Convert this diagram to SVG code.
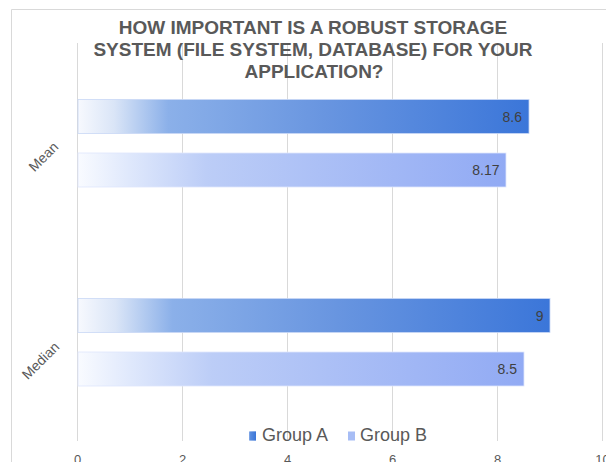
<svg xmlns="http://www.w3.org/2000/svg" width="606" height="462" viewBox="0 0 606 462">
<defs>
<linearGradient id="gA" x1="0" y1="0" x2="1" y2="0">
<stop offset="0" stop-color="#f7f9fe"/>
<stop offset="0.08" stop-color="#dae5f7"/>
<stop offset="0.2" stop-color="#8bb0e9"/>
<stop offset="0.55" stop-color="#6895e0"/>
<stop offset="1" stop-color="#3b76d9"/>
</linearGradient>
<linearGradient id="gB" x1="0" y1="0" x2="1" y2="0">
<stop offset="0" stop-color="#f9fbff"/>
<stop offset="0.12" stop-color="#dfe8fc"/>
<stop offset="0.3" stop-color="#bccdf7"/>
<stop offset="1" stop-color="#91aaf4"/>
</linearGradient>
<style>
.grid{stroke:#d9d9d9;stroke-width:1}
.frame{stroke:#d9d9d9;stroke-width:1;fill:none}
.title{font-family:"Liberation Sans",Arial,sans-serif;font-weight:bold;font-size:19px;fill:#595959;text-anchor:middle}
.val{font-family:"Liberation Sans",Arial,sans-serif;font-size:14px;fill:#404040;text-anchor:end}
.cat{font-family:"Liberation Sans",Arial,sans-serif;font-size:14px;fill:#595959;text-anchor:middle}
.axis{font-family:"Liberation Sans",Arial,sans-serif;font-size:13px;fill:#595959;text-anchor:middle}
.leg{font-family:"Liberation Sans",Arial,sans-serif;font-size:18px;fill:#595959}
.barA{fill:url(#gA);stroke:#c9d8f5;stroke-width:0.8}
.barB{fill:url(#gB);stroke:#dfe7fc;stroke-width:0.8}
</style>
</defs>
<rect x="0" y="0" width="606" height="462" fill="#ffffff"/>
<path class="frame" d="M11.5,462 V9.5 H606"/>
<g id="gridlines">
<line class="grid" x1="77.5" y1="43" x2="77.5" y2="441"/>
<line class="grid" x1="182.5" y1="43" x2="182.5" y2="441"/>
<line class="grid" x1="287.5" y1="43" x2="287.5" y2="441"/>
<line class="grid" x1="392.5" y1="43" x2="392.5" y2="441"/>
<line class="grid" x1="497.5" y1="43" x2="497.5" y2="441"/>
<line class="grid" x1="602.5" y1="43" x2="602.5" y2="441"/>
</g>
<g id="title">
<text class="title" x="313" y="34">HOW IMPORTANT IS A ROBUST STORAGE</text>
<text class="title" x="313" y="56">SYSTEM (FILE SYSTEM, DATABASE) FOR YOUR</text>
<text class="title" x="314" y="78">APPLICATION?</text>
</g>
<g id="mean-a">
<rect class="barA" x="78" y="99.5" width="451" height="34"/>
<text class="val" x="522" y="121.5">8.6</text>
</g>
<g id="mean-b">
<rect class="barB" x="78" y="153" width="428" height="34"/>
<text class="val" x="499.5" y="175">8.17</text>
</g>
<g id="median-a">
<rect class="barA" x="78" y="298.5" width="472" height="34"/>
<text class="val" x="543.5" y="320.5">9</text>
</g>
<g id="median-b">
<rect class="barB" x="78" y="352" width="446" height="34"/>
<text class="val" x="517" y="374">8.5</text>
</g>
<g id="categories">
<text class="cat" transform="translate(47,160) rotate(-45)">Mean</text>
<text class="cat" transform="translate(44,364) rotate(-45)">Median</text>
</g>
<g id="axis">
<text class="axis" x="77.5" y="464">0</text>
<text class="axis" x="182.5" y="464">2</text>
<text class="axis" x="287.5" y="464">4</text>
<text class="axis" x="392.5" y="464">6</text>
<text class="axis" x="497.5" y="464">8</text>
<text class="axis" x="602.5" y="464">10</text>
</g>
<g id="legend">
<rect x="249" y="431.5" width="7" height="9" fill="url(#gA)"/>
<rect x="249" y="431.5" width="7" height="9" fill="#3b76d9" opacity="0.6"/>
<text class="leg" x="262" y="441">Group A</text>
<rect x="348" y="431.5" width="7" height="9" fill="#a7bdf5"/>
<text class="leg" x="360" y="441">Group B</text>
</g>
</svg>
